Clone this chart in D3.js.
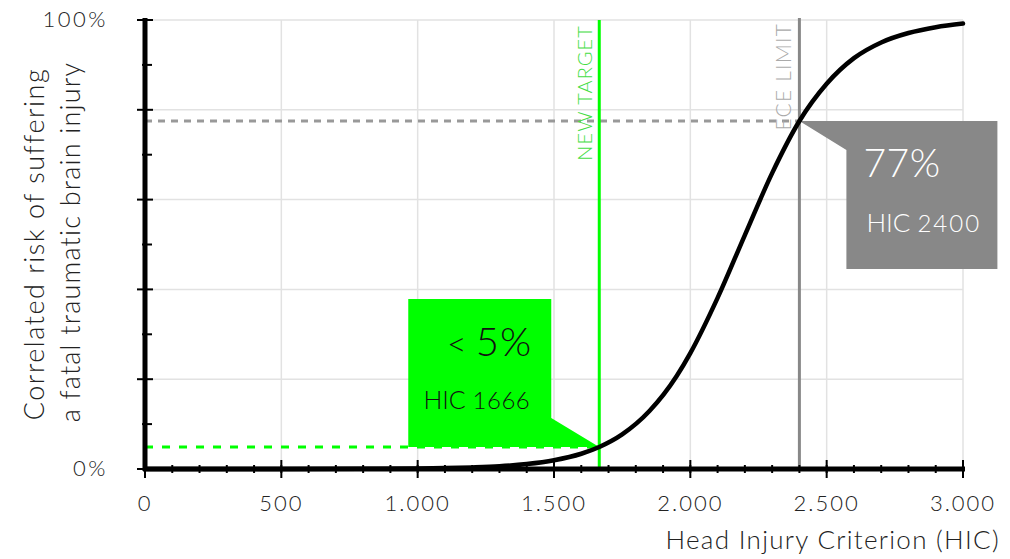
<!DOCTYPE html>
<html>
<head>
<meta charset="utf-8">
<script src="https://cdn.jsdelivr.net/npm/d3@7"></script>
<style>
  body { margin: 0; background: #fff; }
  text { font-family: Lato, "Open Sans", sans-serif; font-weight: 300; }
</style>
</head>
<body>
<div id="chart"></div>
<script>
// risk curve (HIC -> % risk)
var hicValues  = [0, 500, 800, 1000, 1100, 1200, 1300, 1400, 1500, 1600, 1666, 1750, 1850, 1950, 2000, 2100, 2200, 2300, 2400, 2500, 2600, 2700, 2800, 2900, 3000];
var riskValues = [0, 0, 0.04, 0.1, 0.2, 0.35, 0.6, 1.1, 1.95, 3.4, 4.9, 7.7, 12.9, 20.7, 25.8, 38.1, 52.1, 65.9, 77.5, 85.8, 91.5, 95.0, 97.1, 98.4, 99.2];

var xTicks = [0, 500, 1000, 1500, 2000, 2500, 3000];
var xMinorTicks = d3.range(0, 3001, 100);
var yTicks = [0, 20, 40, 60, 80, 100];
var yMinorTicks = [10, 30, 50, 70, 90];
var yLabels = { 0: "0%", 100: "100%" };

// the two marked limits
var targetHic = 1666, targetRisk = 4.9, targetLabel = "5%";
var limitHic = 2400, limitRisk = 77.5, limitLabel = "77%";

var width = 1010, height = 559;
var margin = { top: 20, right: 47, bottom: 90, left: 145 };
var innerW = width - margin.left - margin.right;
var innerH = height - margin.top - margin.bottom;

var svg = d3.select('#chart').append('svg')
  .attr('width', width)
  .attr('height', height);

var g = svg.append('g').attr('transform', 'translate(' + margin.left + ',' + margin.top + ')');

var x = d3.scaleLinear().domain([0, 3000]).range([0, innerW]);
var y = d3.scaleLinear().domain([0, 100]).range([innerH, 0]);

var locale = d3.formatLocale({ decimal: ",", thousands: ".", grouping: [3], currency: ["", "€"] });
var fmt = locale.format(",d");

// grid
g.selectAll('.vgrid').data(xTicks.slice(1)).enter().append('line')
  .attr('x1', function (d) { return x(d); })
  .attr('x2', function (d) { return x(d); })
  .attr('y1', 0).attr('y2', innerH)
  .attr('stroke', '#e2e2e2').attr('stroke-width', 1.5);

g.selectAll('.hgrid').data(yTicks.slice(1)).enter().append('line')
  .attr('x1', 0).attr('x2', innerW)
  .attr('y1', function (d) { return y(d); })
  .attr('y2', function (d) { return y(d); })
  .attr('stroke', '#e2e2e2').attr('stroke-width', 1.5);

// dashed guide line to the limit
g.append('line')
  .attr('x1', 0).attr('x2', x(limitHic))
  .attr('y1', y(limitRisk)).attr('y2', y(limitRisk))
  .attr('stroke', '#999').attr('stroke-width', 3)
  .attr('stroke-dasharray', '7,6');

// vertical markers
g.append('line')
  .attr('x1', x(limitHic)).attr('x2', x(limitHic))
  .attr('y1', -2).attr('y2', innerH)
  .attr('stroke', '#888').attr('stroke-width', 3);

g.append('line')
  .attr('x1', x(targetHic)).attr('x2', x(targetHic))
  .attr('y1', 0).attr('y2', innerH)
  .attr('stroke', '#00ff00').attr('stroke-width', 3);

// marker labels
g.append('text')
  .attr('transform', 'translate(' + (x(targetHic) - 7) + ',5) rotate(-90)')
  .attr('text-anchor', 'end')
  .attr('font-size', 20)
  .attr('letter-spacing', 1.1)
  .attr('fill', '#44dd44')
  .text('NEW TARGET');

g.append('text')
  .attr('transform', 'translate(' + (x(limitHic) - 8) + ',3) rotate(-90)')
  .attr('text-anchor', 'end')
  .attr('font-size', 21)
  .attr('letter-spacing', 1.2)
  .attr('fill', '#aaaaaa')
  .text('ECE LIMIT');

// green callout
var tx = x(targetHic), ty = y(targetRisk);
g.append('polygon')
  .attr('points', [[tx - 191, ty - 148], [tx - 48, ty - 148], [tx - 48, ty - 29], [tx, ty], [tx - 191, ty]].join(' '))
  .attr('fill', '#00ff00');

g.append('line')
  .attr('x1', 0).attr('x2', x(targetHic))
  .attr('y1', y(targetRisk)).attr('y2', y(targetRisk))
  .attr('stroke', '#00ff00').attr('stroke-width', 3)
  .attr('stroke-dasharray', '8,9');

var t1 = g.append('text')
  .attr('x', tx - 67).attr('y', ty - 91)
  .attr('text-anchor', 'end')
  .attr('fill', '#111');
t1.append('tspan').attr('font-size', 34).text('< ');
t1.append('tspan').attr('font-size', 40).attr('letter-spacing', 1).text(targetLabel);

var t2 = g.append('text')
  .attr('x', tx - 69).attr('y', ty - 38)
  .attr('text-anchor', 'end')
  .attr('fill', '#111');
t2.append('tspan').attr('font-size', 25).text('HIC ');
t2.append('tspan').attr('font-size', 24).attr('letter-spacing', 0.5).text(targetHic);

// gray callout
var lx = x(limitHic), ly = y(limitRisk);
g.append('polygon')
  .attr('points', [[lx, ly], [lx + 198, ly], [lx + 198, ly + 148], [lx + 47, ly + 148], [lx + 47, ly + 29]].join(' '))
  .attr('fill', '#888888');

g.append('text')
  .attr('x', lx + 64).attr('y', ly + 56)
  .attr('font-size', 39)
  .attr('letter-spacing', 0.5)
  .attr('fill', '#fff')
  .text(limitLabel);

var t3 = g.append('text')
  .attr('x', lx + 67).attr('y', ly + 111)
  .attr('fill', '#fff');
t3.append('tspan').attr('font-size', 26).text('HIC ');
t3.append('tspan').attr('font-size', 24).attr('letter-spacing', 2).text(limitHic);

// curve
var line = d3.line()
  .x(function (d) { return x(d[0]); })
  .y(function (d) { return y(d[1]); })
  .curve(d3.curveMonotoneX);

g.append('path')
  .datum(d3.zip(hicValues, riskValues))
  .attr('d', line)
  .attr('fill', 'none')
  .attr('stroke', '#000')
  .attr('stroke-width', 4.5)
  .attr('stroke-linecap', 'round');

// axes
g.append('line')
  .attr('x1', 0).attr('x2', 0).attr('y1', -2).attr('y2', innerH + 2)
  .attr('stroke', '#000').attr('stroke-width', 5);
g.append('line')
  .attr('x1', -2).attr('x2', innerW + 2).attr('y1', innerH).attr('y2', innerH)
  .attr('stroke', '#000').attr('stroke-width', 5);

g.selectAll('.ymaj').data(yTicks).enter().append('line')
  .attr('x1', -8).attr('x2', 8)
  .attr('y1', function (d) { return y(d); })
  .attr('y2', function (d) { return y(d); })
  .attr('stroke', '#000').attr('stroke-width', 2);
g.selectAll('.ymin').data(yMinorTicks).enter().append('line')
  .attr('x1', -3).attr('x2', 7)
  .attr('y1', function (d) { return y(d); })
  .attr('y2', function (d) { return y(d); })
  .attr('stroke', '#000').attr('stroke-width', 2);

g.selectAll('.xmin').data(xMinorTicks).enter().append('line')
  .attr('x1', function (d) { return x(d); })
  .attr('x2', function (d) { return x(d); })
  .attr('y1', innerH - 4).attr('y2', innerH + 4)
  .attr('stroke', '#000').attr('stroke-width', 2);
g.selectAll('.xmaj').data(xTicks).enter().append('line')
  .attr('x1', function (d) { return x(d); })
  .attr('x2', function (d) { return x(d); })
  .attr('y1', innerH - 9).attr('y2', innerH + 9)
  .attr('stroke', '#000').attr('stroke-width', 2);

// tick labels
g.selectAll('.xlab').data(xTicks).enter().append('text')
  .attr('x', function (d) { return x(d); })
  .attr('y', innerH + 42)
  .attr('text-anchor', 'middle')
  .attr('font-size', 22)
  .attr('letter-spacing', 2)
  .attr('fill', '#222')
  .text(function (d) { return fmt(d); });

g.selectAll('.ylab').data([0, 100]).enter().append('text')
  .attr('x', -37)
  .attr('y', function (d) { return y(d) + 7; })
  .attr('text-anchor', 'end')
  .attr('font-size', 22)
  .attr('letter-spacing', 2.5)
  .attr('fill', '#222')
  .text(function (d) { return yLabels[d]; });

// axis titles
svg.append('text')
  .attr('x', 1000).attr('y', 549)
  .attr('text-anchor', 'end')
  .attr('font-size', 26)
  .attr('letter-spacing', 1.3)
  .attr('fill', '#222')
  .text('Head Injury Criterion (HIC)');

svg.append('text')
  .attr('transform', 'translate(44,244) rotate(-90)')
  .attr('text-anchor', 'middle')
  .attr('font-size', 27)
  .attr('letter-spacing', 1.5)
  .attr('fill', '#222')
  .text('Correlated risk of suffering');
svg.append('text')
  .attr('transform', 'translate(80,242) rotate(-90)')
  .attr('text-anchor', 'middle')
  .attr('font-size', 27)
  .attr('letter-spacing', 1.2)
  .attr('fill', '#222')
  .text('a fatal traumatic brain injury');
</script>
</body>
</html>
